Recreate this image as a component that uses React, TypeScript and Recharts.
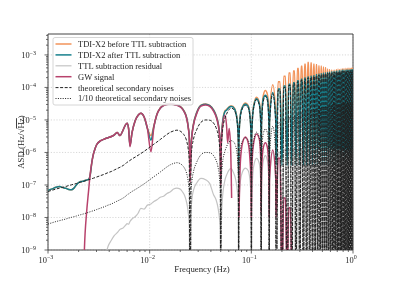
import React from 'react';
import { LineChart, Line, XAxis, YAxis, CartesianGrid, ReferenceArea } from 'recharts';

// frequency grid (Hz); the TDI response has nulls at multiples of 0.025 Hz
const freq = [
  // k=0
  0.001, 0.0011, 0.0012, 0.0013, 0.0014, 0.0015, 0.0016, 0.0017, 0.0018, 0.0019,
  0.002, 0.0021, 0.0022, 0.00228, 0.0024, 0.0025, 0.0026, 0.0027, 0.0028, 0.0029,
  0.003, 0.0033, 0.0036, 0.0039, 0.0042, 0.0045, 0.0048, 0.0051, 0.0055, 0.0058,
  0.006, 0.0062, 0.0064, 0.0067, 0.0072, 0.0077, 0.0082, 0.0088, 0.0095, 0.0103,
  0.011, 0.0118, 0.0127, 0.0137, 0.0148, 0.016, 0.0172, 0.0185, 0.0198, 0.021,
  0.022, 0.0228, 0.0235, 0.024, 0.0245, 0.025,
  // k=1
  0.0255, 0.026, 0.027, 0.029, 0.032, 0.0355, 0.039, 0.0425, 0.045, 0.047, 0.0485, 0.0495, 0.05,
  // k=2
  0.0505, 0.052, 0.055, 0.057, 0.0585, 0.0605, 0.0625, 0.064, 0.066, 0.07, 0.073, 0.0745, 0.075,
  // k=3
  0.0755, 0.078, 0.082, 0.0875, 0.093, 0.097, 0.0995, 0.1,
  // k=4
  0.101, 0.105, 0.1125, 0.12, 0.124, 0.125,
  // k=5
  0.126, 0.131, 0.1375, 0.144, 0.149, 0.15,
  // k=6
  0.151, 0.1625, 0.174, 0.175,
  // k=7..39 : two points across the lobe top, then the null
  0.1833, 0.1917, 0.2, 0.2083, 0.2167, 0.225, 0.2333, 0.2417, 0.25,
  0.2583, 0.2667, 0.275, 0.2833, 0.2917, 0.3, 0.3083, 0.3167, 0.325,
  0.3333, 0.3417, 0.35, 0.3583, 0.3667, 0.375, 0.3833, 0.3917, 0.4,
  0.4083, 0.4167, 0.425, 0.4333, 0.4417, 0.45, 0.4583, 0.4667, 0.475,
  0.4833, 0.4917, 0.5, 0.5083, 0.5167, 0.525, 0.5333, 0.5417, 0.55,
  0.5583, 0.5667, 0.575, 0.5833, 0.5917, 0.6, 0.6083, 0.6167, 0.625,
  0.6333, 0.6417, 0.65, 0.6583, 0.6667, 0.675, 0.6833, 0.6917, 0.7,
  0.7083, 0.7167, 0.725, 0.7333, 0.7417, 0.75, 0.7583, 0.7667, 0.775,
  0.7833, 0.7917, 0.8, 0.8083, 0.8167, 0.825, 0.8333, 0.8417, 0.85,
  0.8583, 0.8667, 0.875, 0.8833, 0.8917, 0.9, 0.9083, 0.9167, 0.925,
  0.9333, 0.9417, 0.95, 0.9583, 0.9667, 0.975, 0.9833, 0.9917, 1.0,
];

const beforeTTL = [
  6.9e-8, 7.6e-8, 8.5e-8, 8.9e-8, 8.3e-8, 7.9e-8, 7.3e-8, 7.1e-8, 8.0e-8, 1.0e-7,
  1.18e-7, 1.28e-7, 1.3e-7, 1.35e-7, 1.42e-7, 1.48e-7, 2.0e-7, 5.0e-7, 9.0e-7, 1.3e-6,
  1.7e-6, 2.3e-6, 2.6e-6, 2.85e-6, 3.1e-6, 3.5e-6, 4.1e-6, 3.3e-6, 5.0e-6, 7.2e-6,
  7.9e-6, 5.5e-6, 1.7e-6, 4.0e-6, 9.5e-6, 1.4e-5, 1.6e-5, 1.25e-5, 5.6e-6, 3.3e-6,
  6.6e-6, 1.52e-5, 2.35e-5, 2.85e-5, 3.1e-5, 3.2e-5, 3.1e-5, 2.9e-5, 2.65e-5, 2.25e-5,
  1.8e-5, 1.38e-5, 9.2e-6, 5.9e-6, 3.3e-6, 1.6e-7,
  1.6e-6, 3.5e-6, 7.8e-6, 1.7e-5, 2.85e-5, 3.1e-5, 2.8e-5, 2.05e-5, 1.4e-5, 8.5e-6, 4.3e-6, 1.4e-6, 1.6e-7,
  1.7e-6, 8.0e-6, 1.9e-5, 2.1e-5, 2.3e-5, 2.55e-5, 2.7e-5, 2.7e-5, 2.6e-5, 1.9e-5, 8.4e-6, 2.3e-6, 2.0e-7,
  2.6e-6, 1.45e-5, 2.6e-5, 3.3e-5, 2.8e-5, 1.4e-5, 3.2e-6, 3.0e-7,
  4.2e-6, 2.6e-5, 5.0e-5, 3.4e-5, 8.0e-6, 4.0e-7,
  1.0e-5, 5.6e-5, 8.0e-5, 6.0e-5, 1.1e-5, 5.0e-7,
  1.4e-5, 1.2e-4, 1.5e-5, 5.0e-7,
  1.5e-4, 1.5e-4, 5e-7, 2.2e-4, 2.2e-4, 5e-7, 2.8e-4, 2.8e-4, 5e-7,
  3.2e-4, 3.2e-4, 5e-7, 3.8e-4, 3.8e-4, 5e-7, 4.5e-4, 4.5e-4, 5e-7,
  5.2e-4, 5.2e-4, 5e-7, 5.8e-4, 5.8e-4, 5e-7, 5.6e-4, 5.6e-4, 5e-7,
  5.2e-4, 5.2e-4, 5e-7, 5.0e-4, 5.0e-4, 5e-7, 4.6e-4, 4.6e-4, 5e-7,
  4.5e-4, 4.5e-4, 5e-7, 4.2e-4, 4.2e-4, 5e-7, 4.0e-4, 4.0e-4, 5e-7,
  3.6e-4, 3.6e-4, 5e-7, 3.5e-4, 3.5e-4, 5e-7, 3.4e-4, 3.4e-4, 5e-7,
  3.3e-4, 3.3e-4, 5e-7, 3.4e-4, 3.4e-4, 5e-7, 3.5e-4, 3.5e-4, 5e-7,
  3.6e-4, 3.6e-4, 5e-7, 3.5e-4, 3.5e-4, 5e-7, 3.6e-4, 3.6e-4, 5e-7,
  3.7e-4, 3.7e-4, 5e-7, 3.7e-4, 3.7e-4, 5e-7, 3.8e-4, 3.8e-4, 5e-7,
  3.7e-4, 3.7e-4, 5e-7, 3.8e-4, 3.8e-4, 5e-7, 3.9e-4, 3.9e-4, 5e-7,
  3.8e-4, 3.8e-4, 5e-7, 3.9e-4, 3.9e-4, 5e-7, 3.9e-4, 3.9e-4, 5e-7,
];

const afterTTL = [
  6.9e-8, 7.6e-8, 8.5e-8, 8.9e-8, 8.3e-8, 7.9e-8, 7.3e-8, 7.1e-8, 8.0e-8, 1.0e-7,
  1.18e-7, 1.28e-7, 1.3e-7, 1.35e-7, 1.42e-7, 1.48e-7, 2.0e-7, 5.0e-7, 9.0e-7, 1.3e-6,
  1.7e-6, 2.3e-6, 2.6e-6, 2.85e-6, 3.1e-6, 3.5e-6, 4.1e-6, 3.3e-6, 5.0e-6, 7.2e-6,
  7.9e-6, 5.5e-6, 1.6e-6, 4.0e-6, 9.5e-6, 1.4e-5, 1.6e-5, 1.25e-5, 5.5e-6, 2.4e-6,
  6.3e-6, 1.5e-5, 2.3e-5, 2.8e-5, 3.05e-5, 3.15e-5, 3.05e-5, 2.85e-5, 2.6e-5, 2.2e-5,
  1.75e-5, 1.35e-5, 9.0e-6, 5.8e-6, 3.2e-6, 1.5e-7,
  1.5e-6, 3.3e-6, 7.5e-6, 1.65e-5, 2.8e-5, 3.05e-5, 2.75e-5, 2.0e-5, 1.35e-5, 8.2e-6, 4.1e-6, 1.35e-6, 1.5e-7,
  1.6e-6, 7.5e-6, 1.8e-5, 2.0e-5, 2.2e-5, 2.45e-5, 2.6e-5, 2.6e-5, 2.5e-5, 1.8e-5, 8.0e-6, 2.2e-6, 2.0e-7,
  2.5e-6, 1.4e-5, 2.5e-5, 3.1e-5, 2.6e-5, 1.3e-5, 3.0e-6, 3.0e-7,
  4.0e-6, 2.4e-5, 4.5e-5, 3.0e-5, 7.0e-6, 4.0e-7,
  8.0e-6, 4.5e-5, 5.8e-5, 4.5e-5, 8.0e-6, 4.0e-7,
  9.0e-6, 7.0e-5, 9.0e-6, 4.0e-7,
  9.0e-5, 9.0e-5, 4e-7, 1.1e-4, 1.1e-4, 4e-7, 1.25e-4, 1.25e-4, 4e-7,
  1.4e-4, 1.4e-4, 4e-7, 1.6e-4, 1.6e-4, 4e-7, 1.8e-4, 1.8e-4, 4e-7,
  1.95e-4, 1.95e-4, 4e-7, 2.1e-4, 2.1e-4, 4e-7, 2.2e-4, 2.2e-4, 4e-7,
  2.3e-4, 2.3e-4, 4e-7, 2.45e-4, 2.45e-4, 4e-7, 2.55e-4, 2.55e-4, 4e-7,
  2.65e-4, 2.65e-4, 4e-7, 2.75e-4, 2.75e-4, 4e-7, 2.8e-4, 2.8e-4, 4e-7,
  2.9e-4, 2.9e-4, 4e-7, 2.95e-4, 2.95e-4, 4e-7, 3.0e-4, 3.0e-4, 4e-7,
  3.05e-4, 3.05e-4, 4e-7, 3.1e-4, 3.1e-4, 4e-7, 3.15e-4, 3.15e-4, 4e-7,
  3.2e-4, 3.2e-4, 4e-7, 3.25e-4, 3.25e-4, 4e-7, 3.3e-4, 3.3e-4, 4e-7,
  3.35e-4, 3.35e-4, 4e-7, 3.35e-4, 3.35e-4, 4e-7, 3.4e-4, 3.4e-4, 4e-7,
  3.4e-4, 3.4e-4, 4e-7, 3.45e-4, 3.45e-4, 4e-7, 3.45e-4, 3.45e-4, 4e-7,
  3.5e-4, 3.5e-4, 4e-7, 3.5e-4, 3.5e-4, 4e-7, 3.5e-4, 3.5e-4, 4e-7,
];

const ttlResidual = [
  null, null, null, null, null, null, null, null, null, null,
  null, null, null, null, null, null, null, null, null, null,
  null, null, 5e-10, 1.3e-9, 2.0e-9, 2.8e-9, 3.4e-9, 4.3e-9, 4.8e-9, 5.8e-9,
  6.5e-9, 6.2e-9, 7.5e-9, 9.0e-9, 1.05e-8, 1.35e-8, 1.9e-8, 1.8e-8, 2.4e-8, 2.6e-8,
  3.1e-8, 3.5e-8, 4.2e-8, 4.5e-8, 5.5e-8, 6.2e-8, 7.5e-8, 8.0e-8, 7.6e-8, 6.2e-8,
  4.8e-8, 3.4e-8, 2.2e-8, 1.3e-8, 6e-9, 1e-12,
  1.5e-8, 3.5e-8, 7e-8, 1.15e-7, 1.6e-7, 1.45e-7, 1.1e-7, 5e-8, 3.5e-8, 2e-8, 1e-8, 4e-9, 1e-12,
  5e-9, 4e-8, 1.4e-7, 2e-7, 2.4e-7, 2.9e-7, 3.2e-7, 3.1e-7, 2.6e-7, 1.5e-7, 6e-8, 1.5e-8, 1e-12,
  2e-8, 1.3e-7, 2.6e-7, 3.3e-7, 2.8e-7, 1.4e-7, 3e-8, 1e-12,
  3e-8, 3.5e-7, 6.6e-7, 4.5e-7, 1e-7, 1e-12,
  1e-7, 5.5e-7, 8e-7, 5.5e-7, 1e-7, 1e-12,
  1.2e-7, 1e-6, 1.2e-7, 1e-12,
  1e-6, 1e-6, 1e-12, 1.2e-6, 1.2e-6, 1e-12, 1.2e-6, 1.2e-6, 1e-12,
  1.3e-6, 1.3e-6, 1e-12, 1.2e-6, 1.2e-6, 1e-12, 1.3e-6, 1.3e-6, 1e-12,
  1.25e-6, 1.25e-6, 1e-12, 1.3e-6, 1.3e-6, 1e-12, 1.35e-6, 1.35e-6, 1e-12,
  1.3e-6, 1.3e-6, 1e-12, 1.3e-6, 1.3e-6, 1e-12, 1.35e-6, 1.35e-6, 1e-12,
  1.3e-6, 1.3e-6, 1e-12, 1.3e-6, 1.3e-6, 1e-12, 1.25e-6, 1.25e-6, 1e-12,
  1.3e-6, 1.3e-6, 1e-12, 1.3e-6, 1.3e-6, 1e-12, 1.25e-6, 1.25e-6, 1e-12,
  1.3e-6, 1.3e-6, 1e-12, 1.2e-6, 1.2e-6, 1e-12, 1.25e-6, 1.25e-6, 1e-12,
  1.2e-6, 1.2e-6, 1e-12, 1.25e-6, 1.25e-6, 1e-12, 1.2e-6, 1.2e-6, 1e-12,
  1.2e-6, 1.2e-6, 1e-12, 1.15e-6, 1.15e-6, 1e-12, 1.2e-6, 1.2e-6, 1e-12,
  1.15e-6, 1.15e-6, 1e-12, 1.2e-6, 1.2e-6, 1e-12, 1.15e-6, 1.15e-6, 1e-12,
  1.2e-6, 1.2e-6, 1e-12, 1.15e-6, 1.15e-6, 1e-12, 1.2e-6, 1.2e-6, 1e-12,
];

const gwSignal = [
  null, null, null, null, null, null, null, null, null, null,
  null, null, 1e-11, 1e-9, 1.5e-8, 6e-8, 2.2e-7, 5e-7, 9e-7, 1.3e-6,
  1.7e-6, 2.3e-6, 2.6e-6, 2.85e-6, 3.1e-6, 3.5e-6, 4.1e-6, 3.3e-6, 5.0e-6, 7.2e-6,
  7.9e-6, 5.5e-6, 1.5e-6, 4.0e-6, 9.5e-6, 1.4e-5, 1.6e-5, 1.25e-5, 5.4e-6, 1.05e-6,
  6.0e-6, 1.48e-5, 2.28e-5, 2.75e-5, 3.0e-5, 3.1e-5, 3.0e-5, 2.8e-5, 2.55e-5, 2.15e-5,
  1.7e-5, 1.3e-5, 8.5e-6, 5.5e-6, 3.0e-6, 1.2e-7,
  1.3e-6, 3.0e-6, 7.0e-6, 1.55e-5, 2.65e-5, 2.9e-5, 2.6e-5, 1.85e-5, 1.25e-5, 7.5e-6, 3.7e-6, 1.2e-6, 1e-7,
  1.2e-6, 6e-6, 1.4e-5, 7e-6, 2e-6, 5.5e-6, 1.5e-6, 4e-8, null, null, null, null, null,
  1e-8, 5e-7, 2e-6, 3e-6, 2e-6, 6e-7, 1e-7, 1e-8,
  3e-7, 1.8e-6, 3.7e-6, 2.5e-6, 5e-7, 1.5e-8,
  2.5e-7, 1.4e-6, 2e-6, 1.4e-6, 2.5e-7, 1e-8,
  1.5e-7, 1.2e-6, 1.5e-7, 1e-8,
  6.6e-7, 6.6e-7, 1e-10, 4e-8, 4e-8, 1e-10, 2e-8, 2e-8, 1e-10,
  null, null, null, null, null, null, null, null, null,
  null, null, null, null, null, null, null, null, null,
  null, null, null, null, null, null, null, null, null,
  null, null, null, null, null, null, null, null, null,
  null, null, null, null, null, null, null, null, null,
  null, null, null, null, null, null, null, null, null,
  null, null, null, null, null, null, null, null, null,
  null, null, null, null, null, null, null, null, null,
  null, null, null, null, null, null, null, null, null,
  null, null, null, null, null, null, null, null, null,
];

const theoNoise = [
  6.3e-8, 6.9e-8, 7.5e-8, 8.0e-8, 8.5e-8, 9.0e-8, 9.6e-8, 1.01e-7, 1.06e-7, 1.11e-7,
  1.17e-7, 1.22e-7, 1.27e-7, 1.31e-7, 1.38e-7, 1.44e-7, 1.5e-7, 1.56e-7, 1.62e-7, 1.68e-7,
  1.75e-7, 1.95e-7, 2.15e-7, 2.4e-7, 2.6e-7, 2.9e-7, 3.2e-7, 3.5e-7, 4.0e-7, 4.5e-7,
  5.0e-7, 5.3e-7, 5.7e-7, 6.3e-7, 7.2e-7, 8.2e-7, 9.3e-7, 1.08e-6, 1.28e-6, 1.55e-6,
  1.8e-6, 2.1e-6, 2.5e-6, 3.0e-6, 3.6e-6, 4.2e-6, 4.6e-6, 4.85e-6, 4.6e-6, 4.0e-6,
  3.3e-6, 2.6e-6, 1.8e-6, 1.2e-6, 6e-7, 1e-12,
  6e-7, 1.3e-6, 2.6e-6, 5.0e-6, 8.5e-6, 1.0e-5, 9.8e-6, 8.0e-6, 5.8e-6, 3.6e-6, 1.8e-6, 6e-7, 1e-12,
  1.0e-6, 4.5e-6, 1.1e-5, 1.5e-5, 1.8e-5, 2.1e-5, 2.3e-5, 2.3e-5, 2.2e-5, 1.6e-5, 7e-6, 1.9e-6, 1e-12,
  2.2e-6, 1.25e-5, 2.3e-5, 2.8e-5, 2.4e-5, 1.2e-5, 2.8e-6, 1e-12,
  3.6e-6, 2.2e-5, 4.2e-5, 2.8e-5, 6.5e-6, 1e-12,
  6.5e-6, 3.7e-5, 5.3e-5, 3.9e-5, 7e-6, 1e-12,
  8e-6, 6.4e-5, 8e-6, 1e-12,
  8.2e-5, 8.2e-5, 1e-12, 1.0e-4, 1.0e-4, 1e-12, 1.15e-4, 1.15e-4, 1e-12,
  1.3e-4, 1.3e-4, 1e-12, 1.48e-4, 1.48e-4, 1e-12, 1.65e-4, 1.65e-4, 1e-12,
  1.8e-4, 1.8e-4, 1e-12, 1.95e-4, 1.95e-4, 1e-12, 2.05e-4, 2.05e-4, 1e-12,
  2.15e-4, 2.15e-4, 1e-12, 2.25e-4, 2.25e-4, 1e-12, 2.35e-4, 2.35e-4, 1e-12,
  2.45e-4, 2.45e-4, 1e-12, 2.55e-4, 2.55e-4, 1e-12, 2.6e-4, 2.6e-4, 1e-12,
  2.7e-4, 2.7e-4, 1e-12, 2.75e-4, 2.75e-4, 1e-12, 2.8e-4, 2.8e-4, 1e-12,
  2.85e-4, 2.85e-4, 1e-12, 2.9e-4, 2.9e-4, 1e-12, 2.95e-4, 2.95e-4, 1e-12,
  3.0e-4, 3.0e-4, 1e-12, 3.05e-4, 3.05e-4, 1e-12, 3.1e-4, 3.1e-4, 1e-12,
  3.12e-4, 3.12e-4, 1e-12, 3.14e-4, 3.14e-4, 1e-12, 3.18e-4, 3.18e-4, 1e-12,
  3.2e-4, 3.2e-4, 1e-12, 3.22e-4, 3.22e-4, 1e-12, 3.25e-4, 3.25e-4, 1e-12,
  3.28e-4, 3.28e-4, 1e-12, 3.3e-4, 3.3e-4, 1e-12, 3.3e-4, 3.3e-4, 1e-12,
];

const theoNoiseTenth = [
  6.3e-9, 6.9e-9, 7.5e-9, 8.0e-9, 8.5e-9, 9.0e-9, 9.6e-9, 1.01e-8, 1.06e-8, 1.11e-8,
  1.17e-8, 1.22e-8, 1.27e-8, 1.31e-8, 1.38e-8, 1.44e-8, 1.5e-8, 1.56e-8, 1.62e-8, 1.68e-8,
  1.75e-8, 1.95e-8, 2.15e-8, 2.4e-8, 2.6e-8, 2.9e-8, 3.2e-8, 3.5e-8, 4.0e-8, 4.5e-8,
  5.0e-8, 5.3e-8, 5.7e-8, 6.3e-8, 7.2e-8, 8.2e-8, 9.3e-8, 1.08e-7, 1.28e-7, 1.55e-7,
  1.8e-7, 2.1e-7, 2.5e-7, 3.0e-7, 3.6e-7, 4.2e-7, 4.6e-7, 4.85e-7, 4.6e-7, 4.0e-7,
  3.3e-7, 2.6e-7, 1.8e-7, 1.2e-7, 6e-8, 1e-12,
  6e-8, 1.3e-7, 2.6e-7, 5.0e-7, 8.5e-7, 1.0e-6, 9.8e-7, 8.0e-7, 5.8e-7, 3.6e-7, 1.8e-7, 6e-8, 1e-12,
  1.0e-7, 4.5e-7, 1.1e-6, 1.5e-6, 1.8e-6, 2.1e-6, 2.3e-6, 2.3e-6, 2.2e-6, 1.6e-6, 7e-7, 1.9e-7, 1e-12,
  2.2e-7, 1.25e-6, 2.3e-6, 2.8e-6, 2.4e-6, 1.2e-6, 2.8e-7, 1e-12,
  3.6e-7, 2.2e-6, 4.2e-6, 2.8e-6, 6.5e-7, 1e-12,
  6.5e-7, 3.7e-6, 5.3e-6, 3.9e-6, 7e-7, 1e-12,
  8e-7, 6.4e-6, 8e-7, 1e-12,
  8.2e-6, 8.2e-6, 1e-12, 1.0e-5, 1.0e-5, 1e-12, 1.15e-5, 1.15e-5, 1e-12,
  1.3e-5, 1.3e-5, 1e-12, 1.48e-5, 1.48e-5, 1e-12, 1.65e-5, 1.65e-5, 1e-12,
  1.8e-5, 1.8e-5, 1e-12, 1.95e-5, 1.95e-5, 1e-12, 2.05e-5, 2.05e-5, 1e-12,
  2.15e-5, 2.15e-5, 1e-12, 2.25e-5, 2.25e-5, 1e-12, 2.35e-5, 2.35e-5, 1e-12,
  2.45e-5, 2.45e-5, 1e-12, 2.55e-5, 2.55e-5, 1e-12, 2.6e-5, 2.6e-5, 1e-12,
  2.7e-5, 2.7e-5, 1e-12, 2.75e-5, 2.75e-5, 1e-12, 2.8e-5, 2.8e-5, 1e-12,
  2.85e-5, 2.85e-5, 1e-12, 2.9e-5, 2.9e-5, 1e-12, 2.95e-5, 2.95e-5, 1e-12,
  3.0e-5, 3.0e-5, 1e-12, 3.05e-5, 3.05e-5, 1e-12, 3.1e-5, 3.1e-5, 1e-12,
  3.12e-5, 3.12e-5, 1e-12, 3.14e-5, 3.14e-5, 1e-12, 3.18e-5, 3.18e-5, 1e-12,
  3.2e-5, 3.2e-5, 1e-12, 3.22e-5, 3.22e-5, 1e-12, 3.25e-5, 3.25e-5, 1e-12,
  3.28e-5, 3.28e-5, 1e-12, 3.3e-5, 3.3e-5, 1e-12, 3.3e-5, 3.3e-5, 1e-12,
];

const X_MAJOR = [0.001, 0.01, 0.1, 1];
const Y_MAJOR = [1e-9, 1e-8, 1e-7, 1e-6, 1e-5, 1e-4, 1e-3];
const Y_TOP = 4.4e-3;

const SERIES = [
  { key: 'before', label: 'TDI-X2 before TTL subtraction', color: '#f2935a', width: 1.5, dash: undefined },
  { key: 'after', label: 'TDI-X2 after TTL subtraction', color: '#17808d', width: 1.5, dash: undefined },
  { key: 'resid', label: 'TTL subtraction residual', color: '#c4c4c4', width: 1.2, dash: undefined },
  { key: 'gw', label: 'GW signal', color: '#b8426c', width: 1.5, dash: undefined },
  { key: 'theo', label: 'theoretical secondary noises', color: '#222222', width: 1, dash: '3 1.6' },
  { key: 'theo10', label: '1/10 theoretical secondary noises', color: '#222222', width: 1, dash: '1 1.4' },
];

const rows = freq.map((f, i) => ({
  f,
  before: beforeTTL[i],
  after: afterTTL[i],
  resid: ttlResidual[i],
  gw: gwSignal[i],
  theo: theoNoise[i],
  theo10: theoNoiseTenth[i],
}));

const minorsOf = (majors: number[], top: number) =>
  majors.flatMap((m) => [2, 3, 4, 5, 6, 7, 8, 9].map((k) => m * k)).filter((v) => v < top);

const xTicks = [...X_MAJOR, ...minorsOf(X_MAJOR.slice(0, 3), 1)].sort((a, b) => a - b);
const yTicks = [...Y_MAJOR, ...minorsOf(Y_MAJOR, Y_TOP)].sort((a, b) => a - b);

const FONT = '"Liberation Serif", "DejaVu Serif", serif';
const INK = '#262626';
const isMajor = (v: number) => Math.abs(Math.log10(v) - Math.round(Math.log10(v))) < 1e-6;

const Pow = ({ x, y, v, anchor }: any) => {
  const e = Math.round(Math.log10(v));
  return (
    <text x={x} y={y} textAnchor={anchor} fontFamily={FONT} fontSize={8.4} fill={INK}>
      10<tspan dy={-3.4} fontSize={6}>{e < 0 ? `\u2212${-e}` : `${e}`}</tspan>
    </text>
  );
};

const XTick = (props: any) => {
  const { x, y, payload } = props;
  const major = isMajor(payload.value);
  return (
    <g>
      <line x1={x} x2={x} y1={y} y2={y + (major ? 3.5 : 2)} stroke="#444" strokeWidth={0.8} />
      {major && <Pow x={x - 2} y={y + 12.5} v={payload.value} anchor="middle" />}
    </g>
  );
};

const YTick = (props: any) => {
  const { x, y, payload } = props;
  const major = isMajor(payload.value);
  return (
    <g>
      <line x1={x} x2={x - (major ? 3.5 : 2)} y1={y} y2={y} stroke="#444" strokeWidth={0.8} />
      {major && <Pow x={x - 12} y={y + 3} v={payload.value} anchor="end" />}
    </g>
  );
};

const Overlay = () => (
  <svg width={393} height={281} style={{ position: 'absolute', left: 0, top: 0, pointerEvents: 'none' }}>
    <rect x={53} y={37.5} width={140} height={67.5} rx={2} fill="#ffffff" fillOpacity={0.85} stroke="#cccccc" strokeWidth={0.8} />
    {SERIES.map((s, i) => {
      const cy = 44 + i * 10.9;
      return (
        <g key={s.key}>
          <line x1={55.5} x2={71.5} y1={cy} y2={cy} stroke={s.color} strokeWidth={s.width} strokeDasharray={s.dash} />
          <text x={78} y={cy + 2.9} fontFamily={FONT} fontSize={8.5} fill={INK}>{s.label}</text>
        </g>
      );
    })}
    <text x={202} y={272} textAnchor="middle" fontFamily={FONT} fontSize={8.8} fill={INK}>Frequency (Hz)</text>
    <text transform="translate(24,142) rotate(-90)" textAnchor="middle" fontFamily={FONT} fontSize={8.8} fill={INK}>
      ASD (Hz/√<tspan style={{ textDecoration: 'overline' }}>Hz</tspan>)
    </text>
  </svg>
);

export default function App() {
  return (
    <div style={{ position: 'absolute', left: 0, top: 0, width: 393, height: 281, background: '#fff', willChange: 'transform' }}>
      <LineChart width={393} height={281} data={rows} margin={{ top: 34, right: 40, bottom: 0, left: 0 }}>
        <CartesianGrid
          stroke="#cfcfcf"
          strokeDasharray="1.2 1.6"
          strokeWidth={0.8}
          horizontalValues={Y_MAJOR}
          verticalValues={X_MAJOR}
        />
        <XAxis
          dataKey="f"
          type="number"
          scale="log"
          domain={[0.001, 1]}
          allowDataOverflow
          ticks={xTicks}
          interval={0}
          tick={<XTick />}
          tickLine={false}
          axisLine={false}
          tickSize={0}
          tickMargin={0}
          height={31}
        />
        <YAxis
          type="number"
          scale="log"
          domain={[1e-9, Y_TOP]}
          allowDataOverflow
          ticks={yTicks}
          interval={0}
          tick={<YTick />}
          tickLine={false}
          axisLine={false}
          tickSize={0}
          tickMargin={0}
          width={48}
        />
        {SERIES.map((s) => (
          <Line
            key={s.key}
            dataKey={s.key}
            stroke={s.color}
            strokeWidth={s.width}
            strokeDasharray={s.dash}
            type="monotone"
            dot={false}
            activeDot={false}
            connectNulls={false}
            isAnimationActive={false}
          />
        ))}
        <ReferenceArea x1={0.001} x2={1} y1={1e-9} y2={Y_TOP} fill="none" stroke="#444" strokeWidth={1} ifOverflow="visible" />
      </LineChart>
      <Overlay />
    </div>
  );
}
